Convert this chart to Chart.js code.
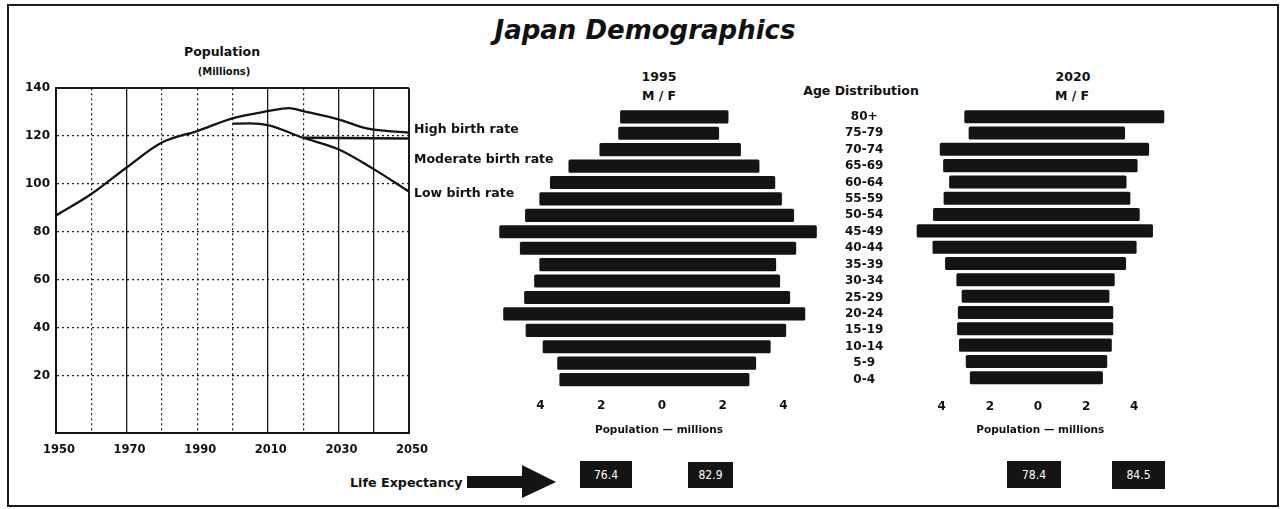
<!DOCTYPE html>
<html>
<head>
<meta charset="utf-8">
<title>Japan Demographics</title>
<script src="https://cdn.jsdelivr.net/npm/chart.js@4"></script>
<style>
  html, body { margin: 0; padding: 0; background: #fff; }
  #page { position: relative; width: 1281px; height: 509px; overflow: hidden;
          font-family: "DejaVu Sans", sans-serif; font-weight: bold; color: #111; }
  #frame { position: absolute; left: 7px; top: 4px; width: 1272px; height: 503px;
           border: 2px solid #1c1c1c; box-sizing: border-box; }
  canvas { position: absolute; }
  .t { position: absolute; white-space: nowrap; line-height: 1; transform: translate(-50%, -50%); }
  .t.left { transform: translate(0, -50%); }
  .box { position: absolute; background: #141414; color: #fff; display: flex;
         align-items: center; justify-content: center; font-weight: normal;
         font-family: "Liberation Sans Narrow", "DejaVu Sans Condensed", sans-serif; font-size: 12px; }
</style>
</head>
<body>
<div id="page">
  <div id="frame"></div>

  <div class="t" style="left:645px; top:30px; font-size:26px; font-style:italic;">Japan Demographics</div>

  <!-- population projection -->
  <div class="t" style="left:222px; top:52px; font-size:12.5px;">Population</div>
  <div class="t" style="left:224px; top:72px; font-size:10px;">(Millions)</div>
  <canvas id="popChart" width="430" height="390" style="left:10px; top:75px;"></canvas>
  <div class="t left" style="left:414px; top:129px; font-size:12.5px;">High birth rate</div>
  <div class="t left" style="left:414px; top:159px; font-size:12.5px;">Moderate birth rate</div>
  <div class="t left" style="left:414px; top:193px; font-size:12.5px;">Low birth rate</div>

  <!-- age pyramids -->
  <div class="t" style="left:659px; top:77px; font-size:12.5px;">1995</div>
  <div class="t" style="left:659px; top:96px; font-size:12.5px;">M / F</div>
  <div class="t" style="left:861px; top:91px; font-size:12.5px;">Age Distribution</div>
  <div class="t" style="left:1073px; top:77px; font-size:12.5px;">2020</div>
  <div class="t" style="left:1072px; top:96px; font-size:12.5px;">M / F</div>
  <canvas id="pyr1995" width="422" height="350" style="left:480px; top:100px;"></canvas>
  <canvas id="pyr2020" width="360" height="350" style="left:895px; top:100px;"></canvas>

  <!-- life expectancy row -->
  <div class="t left" style="left:350px; top:483px; font-size:12.7px;">Life Expectancy</div>
  <svg style="position:absolute; left:465px; top:462px;" width="95" height="40">
    <path d="M2,14 L57,14 L57,3 L91,20 L57,36 L57,26 L2,26 Z" fill="#141414"/>
  </svg>
  <div class="box" id="le1" style="left:580px; top:461px; width:52px; height:27px;"></div>
  <div class="box" id="le2" style="left:688px; top:462px; width:45px; height:26px;"></div>
  <div class="box" id="le3" style="left:1007px; top:461px; width:54px; height:27px;"></div>
  <div class="box" id="le4" style="left:1112px; top:461px; width:53px; height:28px;"></div>
</div>

<script>
// population in millions under each birth-rate assumption
const highYears = [1950, 1960, 1970, 1980, 1990, 2000, 2010, 2016, 2020, 2030, 2038, 2050];
const popHigh   = [86.8, 95.8, 106.9, 117.3, 122.1, 127.4, 130.4, 131.7, 130.4, 127, 123.2, 121.4];
const modYears  = [2020, 2030, 2040, 2050];
const popModerate = [119.3, 119.2, 119.1, 119];
const lowYears  = [2000, 2005, 2010, 2020, 2030, 2040, 2050];
const popLow    = [125.2, 125.3, 124.6, 119.3, 114.5, 106.2, 96.8];

const decades    = [1950, 1960, 1970, 1980, 1990, 2000, 2010, 2020, 2030, 2040, 2050];
const yearLabels = [1950, 1970, 1990, 2010, 2030, 2050];
const solidYears = [1970, 2010, 2030, 2040];
const popTicks   = [20, 40, 60, 80, 100, 120, 140];

// age distribution, millions (male left / female right)
const ageGroups = ['80+', '75-79', '70-74', '65-69', '60-64', '55-59', '50-54', '45-49', '40-44',
                   '35-39', '30-34', '25-29', '20-24', '15-19', '10-14', '5-9', '0-4'];
const male1995   = [1.38, 1.44, 2.06, 3.08, 3.69, 4.04, 4.51, 5.36, 4.68, 4.04, 4.21, 4.54, 5.23, 4.49, 3.93, 3.45, 3.38];
const female1995 = [2.19, 1.88, 2.60, 3.21, 3.73, 3.95, 4.35, 5.10, 4.42, 3.76, 3.89, 4.22, 4.72, 4.09, 3.58, 3.10, 2.88];
const male2020   = [3.06, 2.88, 4.08, 3.94, 3.69, 3.92, 4.36, 5.04, 4.38, 3.86, 3.39, 3.17, 3.33, 3.36, 3.28, 3.00, 2.83];
const female2020 = [5.25, 3.62, 4.62, 4.14, 3.68, 3.84, 4.23, 4.78, 4.10, 3.66, 3.19, 2.97, 3.13, 3.13, 3.07, 2.88, 2.70];
const pyramidTicks = [-4, -2, 0, 2, 4];

// life expectancy (male, female)
const lifeExp1995 = ['76.4', '82.9'];
const lifeExp2020 = ['78.4', '84.5'];

Chart.defaults.font.family = 'DejaVu Sans';
Chart.defaults.font.weight = 'bold';
Chart.defaults.font.size = 12;
Chart.defaults.color = '#111';

const ink = '#141414';

function toPoints(xs, ys) {
  return xs.map((x, i) => ({ x: x, y: ys[i] }));
}

// ---------- population line chart ----------
new Chart(document.getElementById('popChart'), {
  type: 'line',
  data: {
    datasets: [
      { label: 'High birth rate', data: toPoints(highYears, popHigh) },
      { label: 'Moderate birth rate', data: toPoints(modYears, popModerate) },
      { label: 'Low birth rate', data: toPoints(lowYears, popLow) }
    ]
  },
  options: {
    responsive: false,
    animation: false,
    layout: { padding: { top: 12, right: 31, bottom: 0, left: 0 } },
    elements: {
      line: { borderColor: ink, borderWidth: 2.3, cubicInterpolationMode: 'monotone' },
      point: { radius: 0 }
    },
    plugins: { legend: { display: false }, tooltip: { enabled: false } },
    scales: {
      x: {
        type: 'linear', min: 1950, max: 2050,
        afterBuildTicks: s => { s.ticks = decades.map(v => ({ value: v })); },
        afterFit: s => { s.height = 32; },
        ticks: {
          autoSkip: false, maxRotation: 0, padding: 10, labelOffset: 3, font: { size: 11.5 },
          callback: v => yearLabels.includes(v) ? String(v) : ''
        },
        grid: {
          drawTicks: false, color: '#1a1a1a',
          lineWidth: c => {
            if (!c.tick) return 1;
            if (c.tick.value === 1950 || c.tick.value === 2050) return 2;
            return solidYears.includes(c.tick.value) ? 1.3 : 1.2;
          }
        },
        border: {
          color: ink, width: 2,
          dash: c => {
            if (!c.tick) return [];
            const v = c.tick.value;
            return (v === 1950 || v === 2050 || solidYears.includes(v)) ? [] : [2, 3];
          }
        }
      },
      y: {
        min: -4, max: 140,
        afterBuildTicks: s => { s.ticks = popTicks.map(v => ({ value: v })); },
        afterFit: s => { s.width = 46; },
        ticks: { padding: 6, font: { size: 12 } },
        grid: {
          drawTicks: false, color: '#1a1a1a',
          lineWidth: c => (c.tick && c.tick.value === 140) ? 2 : 1.2
        },
        border: {
          color: ink, width: 2,
          dash: c => (c.tick && c.tick.value !== 140) ? [2, 3] : []
        }
      }
    }
  }
});

// ---------- age pyramids ----------
function makePyramid(id, male, female, o) {
  return new Chart(document.getElementById(id), {
    type: 'bar',
    data: {
      labels: ageGroups,
      datasets: [{
        label: 'M / F',
        data: male.map((m, i) => [-m, female[i]]),
        backgroundColor: ink,
        borderWidth: 0,
        borderSkipped: false,
        borderRadius: 1.5,
        barPercentage: 0.8,
        categoryPercentage: 1
      }]
    },
    options: {
      indexAxis: 'y',
      responsive: false,
      animation: false,
      layout: { padding: o.padding },
      plugins: { legend: { display: false }, tooltip: { enabled: false } },
      scales: {
        x: {
          min: o.min, max: o.max,
          afterBuildTicks: s => { s.ticks = pyramidTicks.map(v => ({ value: v })); },
          afterFit: s => { s.height = o.axisHeight; },
          ticks: { padding: o.tickPad, font: { size: 12 }, callback: v => String(Math.abs(v)) },
          grid: { display: false, drawTicks: false },
          border: { display: false },
          title: {
            display: true, text: 'Population — millions', color: '#111',
            font: { size: 10.5 }, padding: { top: 0, bottom: 13.7 }
          }
        },
        y: {
          // age labels sit in the gap between the two pyramids
          display: o.showAges,
          position: 'right',
          afterFit: s => { s.width = 70; },
          ticks: { autoSkip: false, crossAlign: 'center', padding: 0, font: { size: 12 } },
          grid: { display: false, drawTicks: true, tickLength: 13 },
          border: { display: false }
        }
      }
    }
  });
}

makePyramid('pyr1995', male1995, female1995, {
  min: -5.8, max: 5.6, showAges: true,
  padding: { top: 8.6, left: 5.9, right: 0, bottom: 0 },
  axisHeight: 62.2, tickPad: 11.3
});
makePyramid('pyr2020', male2020, female2020, {
  min: -5.6, max: 5.8, showAges: false,
  padding: { top: 8.5, left: 8.2, right: 7.5, bottom: 0 },
  axisHeight: 64.1, tickPad: 13.6
});

document.getElementById('le1').textContent = lifeExp1995[0];
document.getElementById('le2').textContent = lifeExp1995[1];
document.getElementById('le3').textContent = lifeExp2020[0];
document.getElementById('le4').textContent = lifeExp2020[1];
</script>
</body>
</html>
